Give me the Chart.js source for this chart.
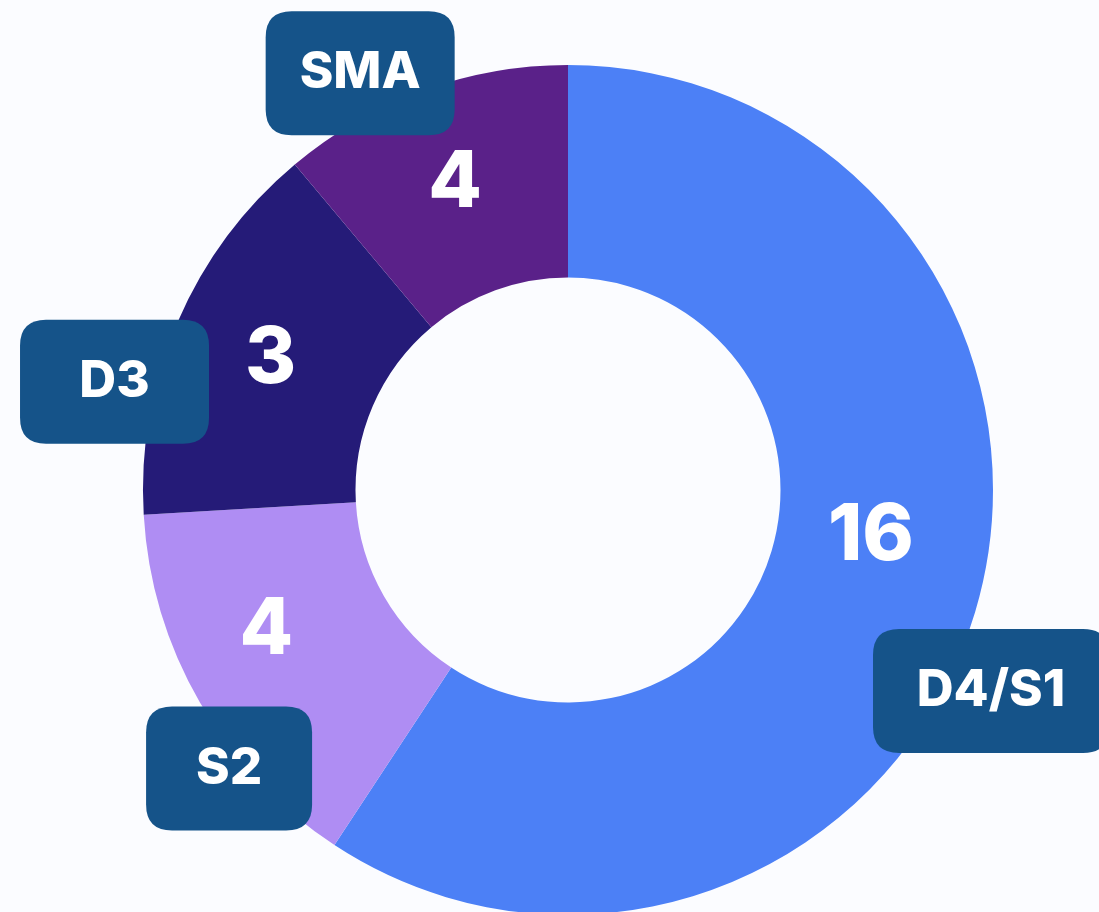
<!DOCTYPE html>
<html>
<head>
<meta charset="utf-8">
<title>Doughnut</title>
<script src="https://cdn.jsdelivr.net/npm/chart.js@4/dist/chart.umd.min.js"></script>
<style>
    html, body { margin: 0; padding: 0; background: #fbfcff; overflow: hidden; }
    #wrap { position: absolute; left: 0; top: 0; width: 1099px; height: 920px; }
</style>
</head>
<body>
<div id="wrap"><canvas id="myChart" width="1099" height="920"></canvas></div>
<script>
    // categories, clockwise from 12 o'clock
    var labels = ['D4/S1', 'S2', 'D3', 'SMA'];
    // arc sizes as drawn in the picture
    var shares = [16, 4, 4, 3];
    // numbers printed on the slices
    var valueLabels = ['16', '4', '3', '4'];
    var colors = ['#4c80f6', '#af8df3', '#251b78', '#5a2189'];

    // label placement (degrees off the slice middle, radius as fraction of outer radius)
    var valueShift = [-8.5, 5.5, 0.8, 0];
    var valueRadius = [0.72, 0.78, 0.767, 0.776];
    var boxShift = [8.75, -9.4, -9.9, -6.5];
    var boxRadius = [1.102, 1.032, 1.097, 1.096];
    var boxWidth = [236, 166, 189, 189];

    var font = 'Inter, "Open Sans", "DejaVu Sans", sans-serif';

    roundRect = (ctx, x, y, w, h, r) => {
        ctx.beginPath();
        ctx.moveTo(x + r, y);
        ctx.lineTo(x + w - r, y);
        ctx.quadraticCurveTo(x + w, y, x + w, y + r);
        ctx.lineTo(x + w, y + h - r);
        ctx.quadraticCurveTo(x + w, y + h, x + w - r, y + h);
        ctx.lineTo(x + r, y + h);
        ctx.quadraticCurveTo(x, y + h, x, y + h - r);
        ctx.lineTo(x, y + r);
        ctx.quadraticCurveTo(x, y, x + r, y);
        ctx.closePath();
    }

    var calloutPlugin = {
        id: 'callouts',
        afterDatasetsDraw(chart) {
            var ctx = chart.ctx;
            var meta = chart.getDatasetMeta(0);
            ctx.save();
            ctx.textAlign = 'center';
            ctx.textBaseline = 'middle';
            meta.data.forEach((arc, i) => {
                var p = arc.getProps(['x', 'y', 'startAngle', 'endAngle', 'outerRadius'], true);
                var mid = (p.startAngle + p.endAngle) / 2;

                // number on the slice
                var a = mid + valueShift[i] * Math.PI / 180;
                var r = p.outerRadius * valueRadius[i];
                ctx.fillStyle = '#ffffff';
                ctx.font = '800 78px ' + font;
                ctx.fillText(valueLabels[i], p.x + Math.cos(a) * r, p.y + Math.sin(a) * r + 3);

                // label box
                var b = mid + boxShift[i] * Math.PI / 180;
                var br = p.outerRadius * boxRadius[i];
                var cx = p.x + Math.cos(b) * br;
                var cy = p.y + Math.sin(b) * br;
                var w = boxWidth[i], h = 124;
                ctx.fillStyle = '#155389';
                roundRect(ctx, cx - w / 2, cy - h / 2, w, h, 26);
                ctx.fill();
                ctx.fillStyle = '#ffffff';
                ctx.font = '800 51px ' + font;
                ctx.fillText(labels[i], cx, cy);
            });
            ctx.restore();
        }
    };

    const ctx = document.getElementById('myChart');
    var chart = new Chart(ctx, {
        type: 'doughnut',
        data: {
            labels: labels,
            datasets: [{
                data: shares,
                backgroundColor: colors,
                borderWidth: 0,
                hoverOffset: 0
            }]
        },
        options: {
            responsive: false,
            animation: false,
            cutout: '50%',
            layout: { padding: { left: 143, top: 65, right: 106, bottom: 5 } },
            plugins: {
                legend: { display: false },
                tooltip: { enabled: false }
            }
        },
        plugins: [calloutPlugin]
    });
</script>
</body>
</html>
